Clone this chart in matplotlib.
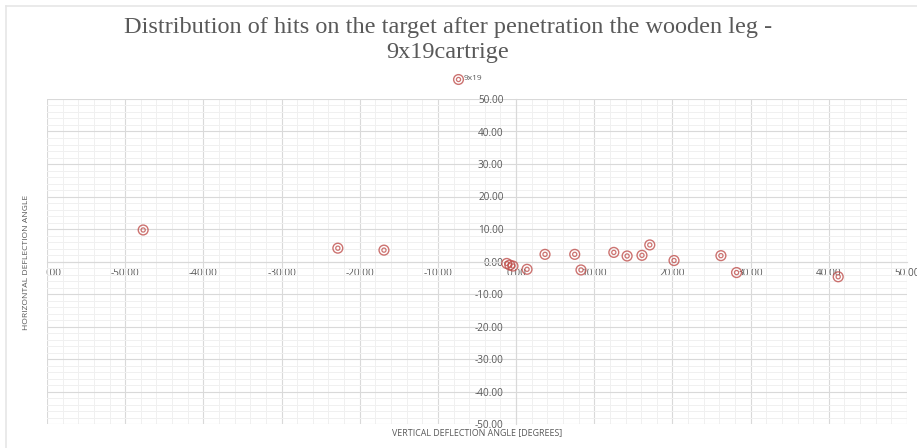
import matplotlib
matplotlib.use('Agg')
import matplotlib.pyplot as plt
from matplotlib.lines import Line2D
from matplotlib.transforms import Bbox
import numpy as np

# hit coordinates (degrees)
vertical_angle = [-47.7, -22.8, -16.9, -1.2, -0.8, -0.4, 1.4, 3.7, 7.5, 8.3,
                  12.5, 14.2, 16.1, 17.1, 20.2, 26.2, 28.2, 41.2]
horizontal_angle = [9.7, 4.1, 3.5, -0.6, -1.1, -1.4, -2.4, 2.2, 2.2, -2.6,
                    2.8, 1.7, 1.9, 5.1, 0.3, 1.8, -3.4, -4.7]
series_name = '9x19'
title_text = 'Distribution of hits on the target after penetration the wooden leg -\n9x19cartrige'
x_major = np.arange(-60, 51, 10)
y_major = np.arange(-50, 51, 10)

red = '#c0504d'
txt = '#595959'

fig = plt.figure(figsize=(9.17, 4.48), dpi=100)

# faint outer frame of the chart area
fig.add_artist(Line2D([6 / 917, 6 / 917], [0, 442 / 448], color='#e6e6e6', lw=1.2))
fig.add_artist(Line2D([6 / 917, 1], [442 / 448, 442 / 448], color='#e6e6e6', lw=1.2))

ax = fig.add_axes([47 / 917, 24 / 448, 860 / 917, 325 / 448])
ax.set_xlim(-60, 50)
ax.set_ylim(-50, 50)

ax.set_xticks(x_major)
ax.set_yticks(y_major)
ax.set_xticks(np.arange(-60, 51, 2), minor=True)
ax.set_yticks(np.arange(-50, 51, 2), minor=True)
ax.set_xticklabels(['%.2f' % v for v in x_major])
ax.set_yticklabels(['%.2f' % v for v in y_major])

ax.grid(which='major', color='#d9d9d9', lw=0.8)
ax.grid(which='minor', color='#f0f0f0', lw=0.7)
ax.set_axisbelow(True)

for side in ['top', 'right']:
    ax.spines[side].set_visible(False)
ax.spines['left'].set_position('zero')
ax.spines['bottom'].set_position('zero')
ax.spines['left'].set_color('#d9d9d9')
ax.spines['bottom'].set_color('#d9d9d9')
ax.spines['left'].set_linewidth(0.8)
ax.spines['bottom'].set_linewidth(0.8)

ax.tick_params(which='both', length=0)
ax.tick_params(axis='x', pad=5, labelsize=7.2, labelcolor=txt)
ax.tick_params(axis='y', pad=9, labelsize=7.2, labelcolor=txt)
for lab in ax.get_xticklabels() + ax.get_yticklabels():
    lab.set_fontfamily('Open Sans')

# left-most x label is cut at the plot edge, as in the source
clip = Bbox.from_extents(46, 0, 917, 448)
for lab in ax.get_xticklabels():
    lab.set_clip_on(True)
    lab.set_clip_box(clip)

ax.scatter(vertical_angle, horizontal_angle, s=50, facecolors='none',
           edgecolors=red, linewidths=1.0, zorder=3, alpha=0.8)
ax.scatter(vertical_angle, horizontal_angle, s=9, facecolors='none',
           edgecolors=red, linewidths=0.9, zorder=3, alpha=0.8)

fig.text(448 / 917, 1 - 40 / 448, title_text, ha='center', va='center',
         fontsize=17.5, family='Liberation Serif', color=txt, linespacing=1.25)

# legend
lx, ly = 458 / 917, 1 - 79 / 448
fig.add_artist(Line2D([lx], [ly], marker='o', ms=7, mfc='none', mec=red, mew=1.0, alpha=0.8))
fig.add_artist(Line2D([lx], [ly], marker='o', ms=3, mfc='none', mec=red, mew=0.9, alpha=0.8))
fig.text(lx + 6 / 917, ly, series_name, ha='left', va='center', fontsize=6,
         family='Open Sans', color=txt)

fig.text(27 / 917, 1 - 262 / 448, 'HORIZONTAL DEFLECTION ANGLE', rotation=90,
         ha='center', va='center', fontsize=6.1, family='Open Sans', color=txt)
fig.text(477 / 917, 1 - 433 / 448, 'VERTICAL DEFLECTION ANGLE [DEGREES]',
         ha='center', va='center', fontsize=6.4, family='Open Sans', color=txt)

fig.savefig('out.png', dpi=100)
